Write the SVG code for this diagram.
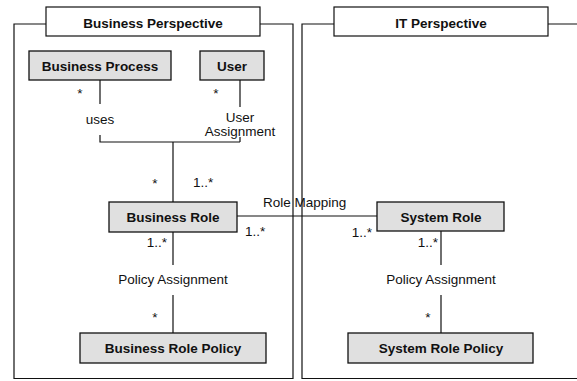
<svg xmlns="http://www.w3.org/2000/svg" width="577" height="381" viewBox="0 0 577 381">
<style>
text{font-family:"Liberation Sans",Arial,sans-serif;font-size:13.5px;fill:#111}
.b{font-weight:bold}
.m{text-anchor:middle}
.e{text-anchor:end}
.frame{fill:none;stroke:#111;stroke-width:1.2}
.title{fill:#fff;stroke:#111;stroke-width:1.2}
.node{fill:#e0e0e0;stroke:#111;stroke-width:1.3}
.c{fill:none;stroke:#111;stroke-width:1.2}
</style>
<g id="business-perspective">
<path class="frame" d="M46,24 H14 V378.5 H293 V24 H260"/>
<rect class="title" x="46" y="7" width="214" height="29"/>
<text class="b m" x="153" y="28">Business Perspective</text>
</g>
<g id="it-perspective">
<path class="frame" d="M334,24 H302 V378.5 H578 M548,24 H578"/>
<rect class="title" x="334" y="7" width="214" height="29"/>
<text class="b m" x="441" y="28">IT Perspective</text>
</g>
<g id="connectors">
<path class="c" d="M100,80 V104 M100,135 V142 H240 M240,80 V107 M240,137 V142 M173,142 V202"/>
<path class="c" d="M173,232 V265 M173,295 V333"/>
<path class="c" d="M237,216 H377"/>
<path class="c" d="M441,231 V265 M441,295 V333"/>
<text class="m" x="100" y="124">uses</text>
<text class="m" x="240" y="121.5">User</text>
<text class="m" x="240" y="135.5">Assignment</text>
<text class="m" x="80" y="98">*</text>
<text class="m" x="216" y="98">*</text>
<text class="m" x="155" y="188">*</text>
<text x="193" y="187">1..*</text>
<text x="263" y="207">Role Mapping</text>
<text x="245" y="236">1..*</text>
<text class="e" x="372" y="236.5">1..*</text>
<text class="e" x="167" y="247">1..*</text>
<text class="e" x="438" y="246.5">1..*</text>
<text class="m" x="173" y="284">Policy Assignment</text>
<text class="m" x="441" y="284">Policy Assignment</text>
<text class="m" x="155" y="322">*</text>
<text class="m" x="428" y="322">*</text>
</g>
<g id="business-process">
<rect class="node" x="29" y="51" width="142" height="29"/>
<text class="b m" x="100" y="71">Business Process</text>
</g>
<g id="user">
<rect class="node" x="200" y="51" width="64" height="29"/>
<text class="b m" x="232" y="71">User</text>
</g>
<g id="business-role">
<rect class="node" x="109" y="202" width="128" height="30"/>
<text class="b m" x="173" y="221.5">Business Role</text>
</g>
<g id="business-role-policy">
<rect class="node" x="80" y="333" width="186" height="30"/>
<text class="b m" x="173" y="353">Business Role Policy</text>
</g>
<g id="system-role">
<rect class="node" x="377" y="202" width="127" height="29"/>
<text class="b m" x="441" y="221.5">System Role</text>
</g>
<g id="system-role-policy">
<rect class="node" x="348" y="333" width="185" height="30"/>
<text class="b m" x="441" y="353">System Role Policy</text>
</g>
</svg>
